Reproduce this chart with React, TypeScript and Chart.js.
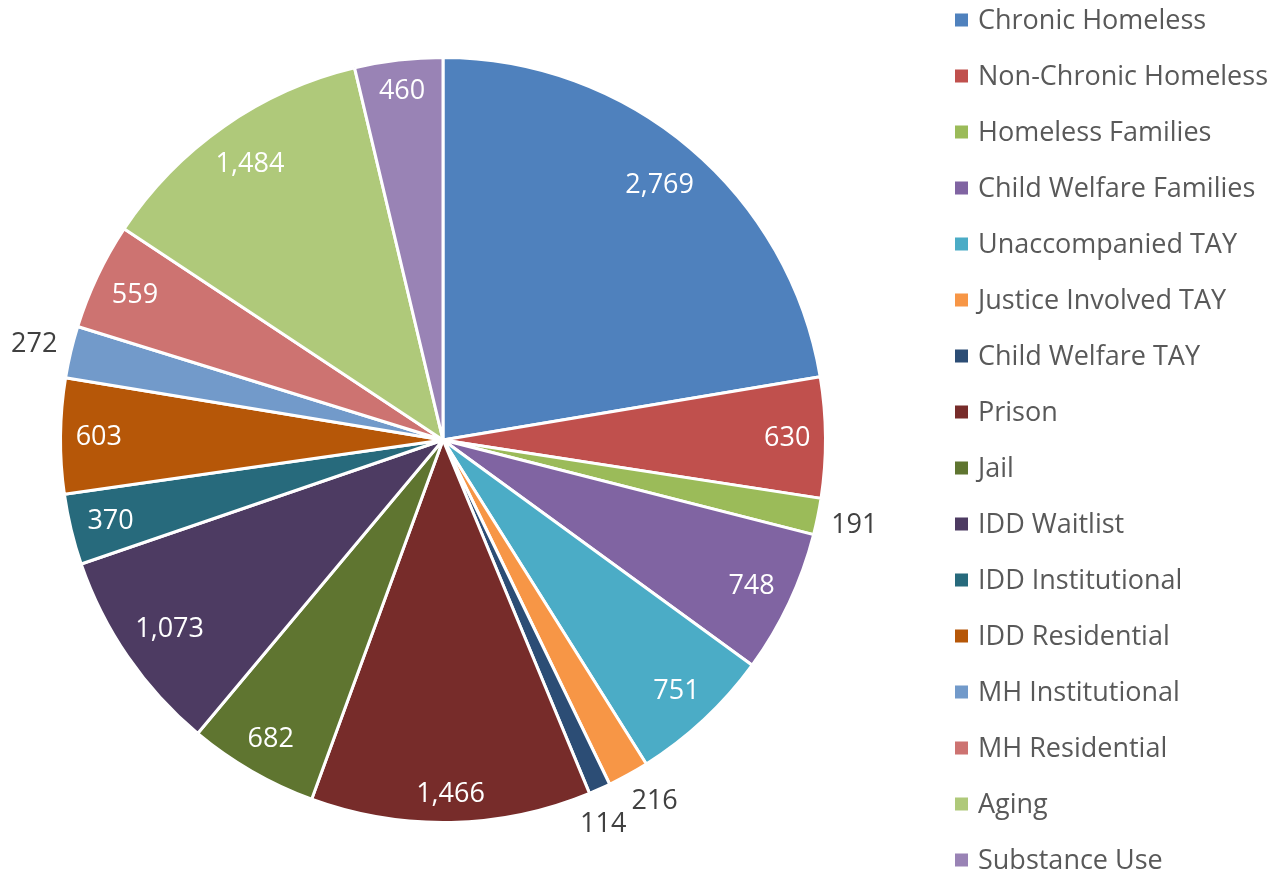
import React, { useEffect, useRef } from "react";
import { Chart, registerables } from "chart.js";

Chart.register(...registerables);

const categories = [
  "Chronic Homeless",
  "Non-Chronic Homeless",
  "Homeless Families",
  "Child Welfare Families",
  "Unaccompanied TAY",
  "Justice Involved TAY",
  "Child Welfare TAY",
  "Prison",
  "Jail",
  "IDD Waitlist",
  "IDD Institutional",
  "IDD Residential",
  "MH Institutional",
  "MH Residential",
  "Aging",
  "Substance Use",
];

const values = [2769, 630, 191, 748, 751, 216, 114, 1466, 682, 1073, 370, 603, 272, 559, 1484, 460];

const colors = [
  "#4F81BD",
  "#C0504D",
  "#9BBB59",
  "#8064A2",
  "#4BACC6",
  "#F79646",
  "#2C4D75",
  "#772C2A",
  "#5F7530",
  "#4D3B62",
  "#276A7C",
  "#B65708",
  "#729ACA",
  "#CD7371",
  "#AFC97A",
  "#9983B5",
];

const FONT = "'Open Sans', 'DejaVu Sans', sans-serif";
const FONT_SIZE = 27;

const fmt = (v: number) => v.toLocaleString("en-US");

const labelPlugin = {
  id: "pieLabels",
  afterDatasetsDraw(chart: any) {
    const ctx = chart.ctx;
    const meta = chart.getDatasetMeta(0);
    const data = chart.data.datasets[0].data as number[];
    const total = data.reduce((a, b) => a + b, 0);
    ctx.save();
    ctx.font = `${FONT_SIZE}px ${FONT}`;
    ctx.textAlign = "center";
    ctx.textBaseline = "middle";
    const hh = 13;
    const items: any[] = [];
    meta.data.forEach((arc: any, i: number) => {
      const { x, y, startAngle, endAngle, outerRadius } = arc.getProps(
        ["x", "y", "startAngle", "endAngle", "outerRadius"],
        true
      );
      const txt = fmt(data[i]);
      const hw = ctx.measureText(txt).width / 2;
      items.push({
        x,
        y,
        R: outerRadius,
        ang: (startAngle + endAngle) / 2,
        txt,
        hw,
        outside: data[i] / total < 0.025,
      });
    });
    const posOf = (it: any) => {
      const cx = Math.cos(it.ang);
      const sy = Math.sin(it.ang);
      const ext = it.hw * Math.abs(cx) + hh * Math.abs(sy);
      const d = it.outside ? it.R + 12 + ext : it.R - 15 - ext;
      return { px: it.x + cx * d, py: it.y + sy * d };
    };
    const overlap = (a: any, b: any) => {
      const pa = posOf(a);
      const pb = posOf(b);
      return Math.abs(pa.px - pb.px) < a.hw + b.hw + 4 && Math.abs(pa.py - pb.py) < 2 * hh + 2;
    };
    for (let i = 1; i < items.length; i++) {
      const a = items[i - 1];
      const b = items[i];
      if (!a.outside || !b.outside) continue;
      let guard = 0;
      while (overlap(a, b) && guard < 200) {
        a.ang -= 0.002;
        b.ang += 0.002;
        guard++;
      }
    }
    items.forEach((it) => {
      const { px, py } = posOf(it);
      ctx.fillStyle = it.outside ? "#404040" : "#FFFFFF";
      ctx.fillText(it.txt, px, py + 1);
    });
    ctx.restore();
  },
};

const legendPlugin = {
  id: "sideLegend",
  afterDraw(chart: any) {
    const ctx = chart.ctx;
    const left = 955;
    const top = 20;
    const step = 56;
    const box = 13;
    ctx.save();
    ctx.font = `${FONT_SIZE}px ${FONT}`;
    ctx.textBaseline = "middle";
    ctx.textAlign = "left";
    (chart.data.labels as string[]).forEach((lab, i) => {
      const cy = top + i * step;
      ctx.fillStyle = colors[i];
      ctx.fillRect(left, cy - box / 2, box, box);
      ctx.fillStyle = "#595959";
      ctx.fillText(lab, left + 23, cy + 1);
    });
    ctx.restore();
  },
};

export default function App() {
  const ref = useRef<HTMLCanvasElement | null>(null);
  useEffect(() => {
    document.body.style.margin = "0";
    const chart = new Chart(ref.current!, {
      type: "pie",
      data: {
        labels: categories,
        datasets: [
          {
            data: values,
            backgroundColor: colors,
            borderColor: "#FFFFFF",
            borderWidth: 3,
          },
        ],
      },
      options: {
        animation: false,
        responsive: false,
        maintainAspectRatio: false,
        layout: { padding: { left: 59, right: 452, top: 56, bottom: 51 } },
        plugins: {
          legend: { display: false },
          tooltip: { enabled: false },
        },
      },
      plugins: [labelPlugin, legendPlugin],
    });
    return () => chart.destroy();
  }, []);
  return (
    <div style={{ position: "fixed", left: 0, top: 0, width: 1279, height: 875, background: "#fff" }}>
      <canvas ref={ref} width={1279} height={875} style={{ width: 1279, height: 875 }} />
    </div>
  );
}
